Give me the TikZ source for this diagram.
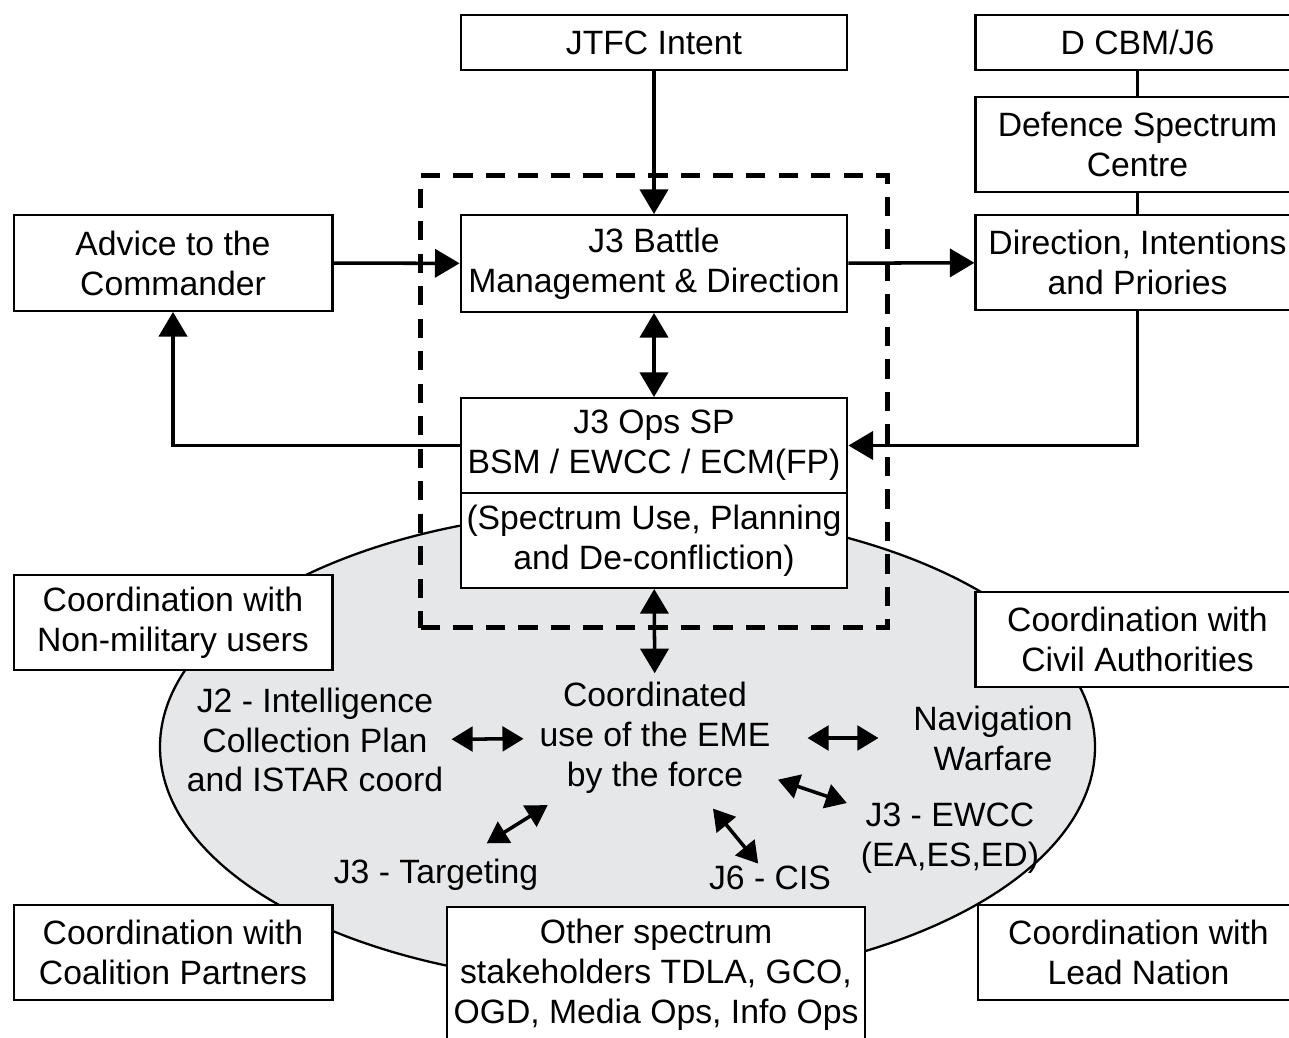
\documentclass[tikz,border=0pt]{standalone}
\usepackage{fontspec}
\setmainfont{Liberation Sans}
\usepackage{tikz}
\usetikzlibrary{positioning,arrows.meta,fit}
\definecolor{emegray}{HTML}{E6E7E8}

\begin{document}
\begin{tikzpicture}[x=0.02cm, y=-0.02cm,
  font=\fontsize{19.2}{22.7}\selectfont,
  box/.style 2 args={draw, line width=1.3pt, fill=white, align=center,
    inner sep=0pt, minimum width=#1, minimum height=#2},
  lbl/.style={align=center, inner sep=0pt},
  flow/.style={line width=2pt, -{Triangle[length=14pt,width=16pt]}},
  twoway/.style={line width=2pt,
    {Triangle[length=14pt,width=16pt]}-{Triangle[length=14pt,width=16pt]}},
  link/.style={line width=2pt,
    {Triangle[length=12pt,width=14pt]}-{Triangle[length=12pt,width=14pt]}},
  dashbox/.style={draw, dash pattern=on 11pt off 7.5pt, line width=2.8pt,
    inner sep=22pt}]
  \useasboundingbox (0,0) rectangle (1289,1038);
  \clip (0,0) rectangle (1289,1038);

  % Zona del EME
  \draw[line width=1.3pt, fill=emegray] (627.5,747) ellipse [x radius=467.5, y radius=237];

  % Cajas superiores
  \node[box={220pt}{31.2pt}] (jtfc) at (654,42.5) {JTFC Intent};
  \node[box={184.3pt}{31.2pt}] (dcbm) at (1137.5,42.5) {D CBM/J6};
  \node[box={184.3pt}{53.9pt}] (dsc) at (1137.5,144.5) {Defence Spectrum\\Centre};
  \node[box={184.3pt}{53.9pt}] (dir) at (1137.5,262.5) {Direction, Intentions\\and Priories};
  \node[box={181.4pt}{54.4pt}] (advice) at (173,263) {Advice to the\\Commander};
  \node[box={220pt}{55pt}] (battle) at (654,263.5) {J3 Battle\\Management \& Direction};
  \node[box={220pt}{53.9pt}] (ops) at (654,445.5) {J3 Ops SP\\BSM / EWCC / ECM(FP)};
  \node[box={220pt}{53.9pt}] (spec) at (654,540.5) {(Spectrum Use, Planning\\and De-confliction)};

  % Celda punteada
  \node[dashbox, fit=(battle)(spec)] (cell) {};

  % Coordinacion
  \node[box={181.4pt}{53.9pt}] (nonmil) at (173,622.5) {Coordination with\\Non-military users};
  \node[box={184.3pt}{53.9pt}] (civil) at (1137.5,639.5) {Coordination with\\Civil Authorities};
  \node[box={181.4pt}{53.9pt}] (coal) at (173,952.5) {Coordination with\\Coalition Partners};
  \node[box={183.1pt}{53.9pt}] (lead) at (1138.5,952.5) {Coordination with\\Lead Nation};
  \node[box={238.1pt}{77.1pt}] (other) at (656,975)
    {Other spectrum\\stakeholders TDLA, GCO,\\OGD, Media Ops, Info Ops};

  % Etiquetas dentro de la elipse
  \node[lbl] (eme) at (655,738) {Coordinated\\use of the EME\\by the force};
  \node[lbl] (j2) at (315,740) {J2 - Intelligence\\Collection Plan\\and ISTAR coord};
  \node[lbl] (nav) at (993,738) {Navigation\\Warfare};
  \node[lbl] (ewcc) at (950,838) {J3 - EWCC\\(EA,ES,ED)};
  \node[lbl] (tgt) at (436,875) {J3 - Targeting};
  \node[lbl] (cis) at (770,878) {J6 - CIS};

  % Flechas principales
  \draw[flow] (jtfc) -- (battle);
  \draw[flow] (advice) -- (battle);
  \draw[flow] (battle) -- (dir);
  \draw[twoway] (battle) -- (ops);
  \draw[flow] (ops.west) -| (advice);
  \draw[flow] (dir) |- (ops.east);
  \draw[line width=2pt] (dcbm) -- (dsc) -- (dir);
  \draw[twoway, shorten >=5pt] (spec) -- (eme);

  % Flechas en la elipse
  \draw[link, shorten <=77.7pt, shorten >=74.8pt] (j2.center) -- (eme.center);
  \draw[link, shorten <=86.8pt, shorten >=65.2pt] (eme.center) -- (nav.center);
  \draw[link, shorten <=73.9pt, shorten >=62pt] (eme.center) -- (ewcc.center);
  \draw[link, shorten <=52pt, shorten >=10.6pt] (eme.center) -- (cis.center);
  \draw[link, shorten <=72pt, shorten >=34pt] (eme.center) -- (tgt.center);
\end{tikzpicture}
\end{document}
